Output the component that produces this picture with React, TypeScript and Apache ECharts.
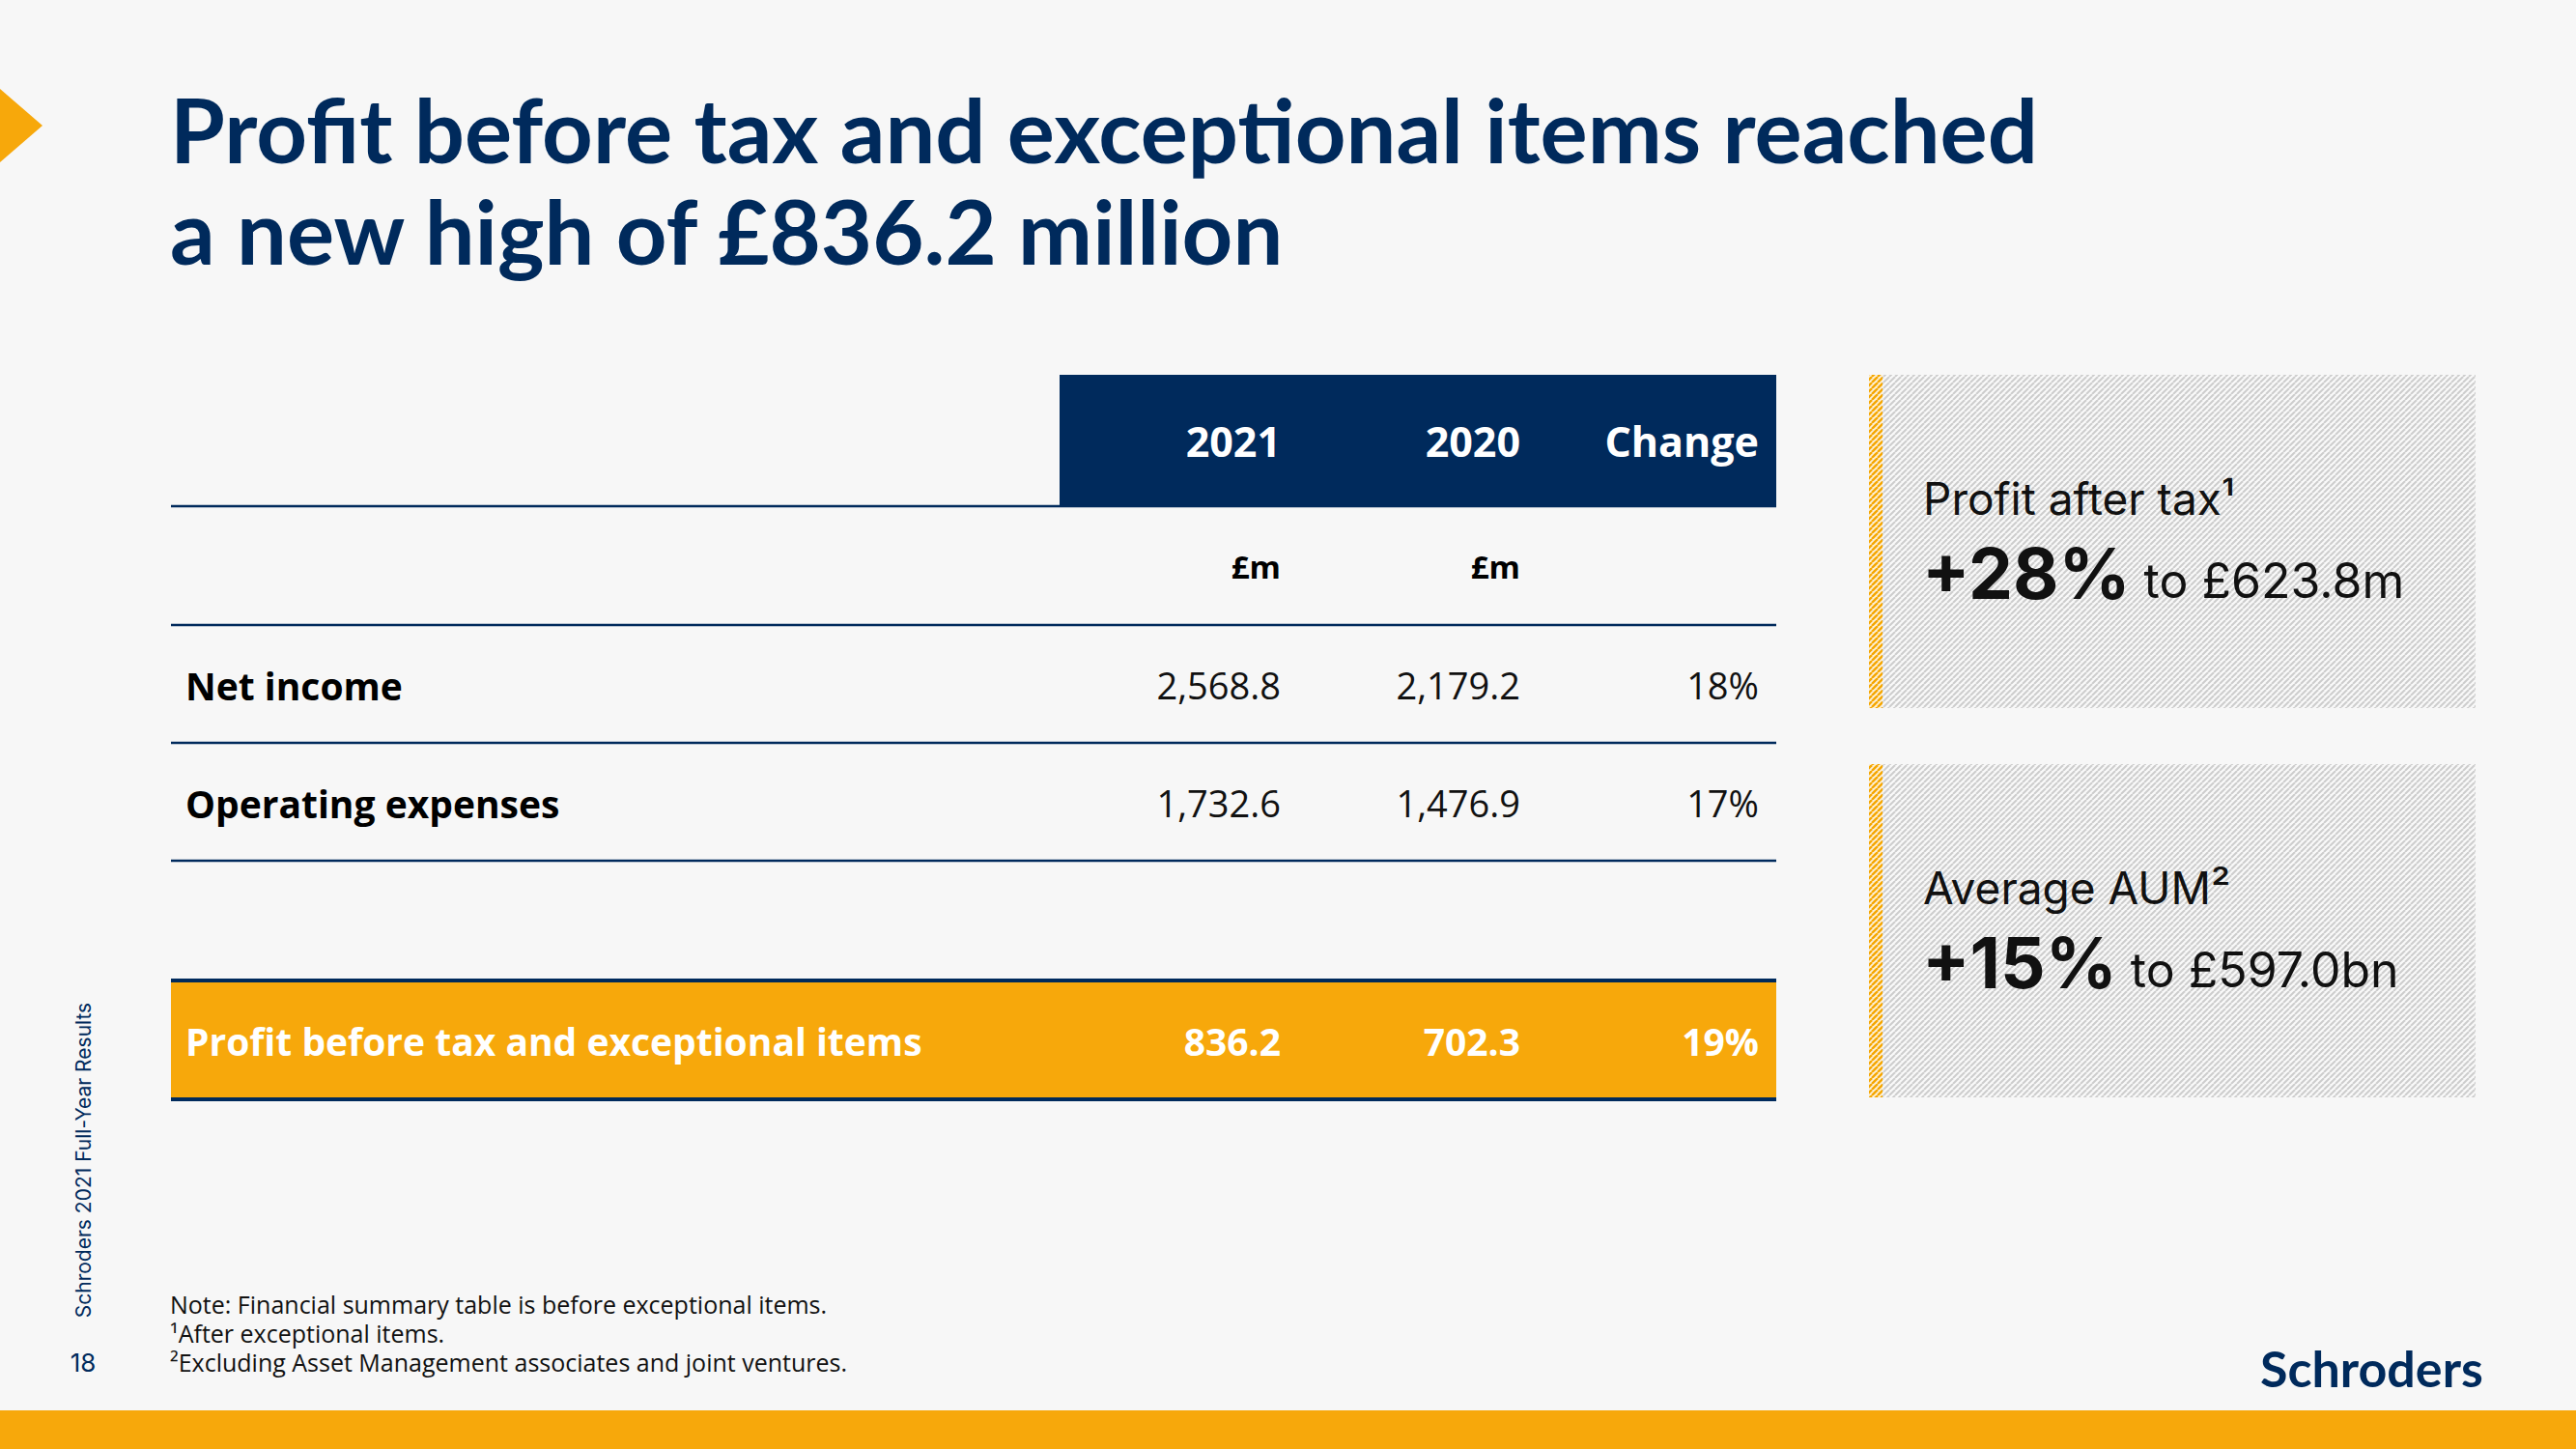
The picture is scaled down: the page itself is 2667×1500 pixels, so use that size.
import React, { useEffect, useRef } from 'react';
import * as echarts from 'echarts';

const titleLines = ['Profit before tax and exceptional items reached', 'a new high of £836.2 million'];
const columns = ['2021', '2020', 'Change'];
const units = ['£m', '£m', ''];
const rowLabels = ['Net income', 'Operating expenses'];
const values2021 = [2568.8, 1732.6];
const values2020 = [2179.2, 1476.9];
const changes = ['18%', '17%'];
const totalLabel = 'Profit before tax and exceptional items';
const total2021 = 836.2;
const total2020 = 702.3;
const totalChange = '19%';
const kpiLabels = ['Profit after tax¹', 'Average AUM²'];
const kpiChanges = ['+28%', '+15%'];
const kpiValues = ['to £623.8m', 'to £597.0bn'];
const notes = [
  'Note: Financial summary table is before exceptional items.',
  '¹After exceptional items.',
  '²Excluding Asset Management associates and joint ventures.',
];
const sideText = 'Schroders 2021 Full-Year Results';
const pageNumber = '18';
const brand = 'Schroders';

const NAVY = '#002a5c';
const ORANGE = '#f7a80b';
const BG = '#f7f7f7';
const TABLE_FONT = '"Open Sans", "Noto Sans", sans-serif';
const TITLE_FONT = 'Lato, "Open Sans", sans-serif';
const KPI_FONT = 'Inter, Lato, sans-serif';

const fmt = (v: number) =>
  v.toLocaleString('en-US', { minimumFractionDigits: 1, maximumFractionDigits: 1 });

let measureCtx: CanvasRenderingContext2D | null = null;
function measure(text: string, font: string) {
  if (!measureCtx) measureCtx = document.createElement('canvas').getContext('2d');
  measureCtx!.font = font;
  return measureCtx!.measureText(text).width;
}

function hatch(bg: string, fg: string, size: number, lw: number) {
  const c = document.createElement('canvas');
  c.width = size;
  c.height = size;
  const g = c.getContext('2d')!;
  g.fillStyle = bg;
  g.fillRect(0, 0, size, size);
  g.strokeStyle = fg;
  g.lineWidth = lw;
  for (const k of [-1, 0, 1]) {
    g.beginPath();
    g.moveTo(k * size, size);
    g.lineTo(k * size + size, 0);
    g.stroke();
  }
  return { image: c, repeat: 'repeat', imageWidth: size, imageHeight: size };
}

function txt(x: number, y: number, text: string, o: any = {}) {
  return {
    type: 'text',
    x,
    y,
    rotation: o.rotation || 0,
    style: {
      text,
      fontSize: o.size || 38,
      fontFamily: o.family || TABLE_FONT,
      fontWeight: o.weight || 'normal',
      fill: o.color || '#000',
      align: o.align || 'left',
      verticalAlign: 'middle',
    },
  };
}

function buildElements() {
  const els: any[] = [];
  // bottom bar and arrow
  els.push({ type: 'rect', shape: { x: 0, y: 1460, width: 2667, height: 40 }, style: { fill: ORANGE } });
  els.push({ type: 'polygon', shape: { points: [[0, 92], [44, 130], [0, 168]] }, style: { fill: ORANGE } });

  // title
  const titleY = [133, 238];
  titleLines.forEach((t, i) =>
    els.push(txt(176, titleY[i], t, { size: 92, family: TITLE_FONT, weight: 'bold', color: NAVY }))
  );

  // table
  const L = 177;
  const R = 1839;
  const colRight = [1326, 1574, 1821];
  els.push({ type: 'rect', shape: { x: 1097, y: 388, width: R - 1097, height: 136 }, style: { fill: NAVY } });
  columns.forEach((c, i) =>
    els.push(txt(colRight[i], 456, c, { size: 43, weight: 'bold', color: '#fff', align: 'right' }))
  );
  units.forEach((u, i) => {
    if (u) els.push(txt(colRight[i], 586, u, { size: 33, weight: 'bold', color: '#000', align: 'right' }));
  });
  const lineYs = [524, 647, 769, 891];
  lineYs.forEach((y) =>
    els.push({ type: 'line', shape: { x1: L, y1: y, x2: R, y2: y }, style: { stroke: NAVY, lineWidth: 2.5 } })
  );
  const rowY = [709, 831];
  rowLabels.forEach((r, i) => {
    els.push(txt(192, rowY[i], r, { size: 39, weight: 'bold', color: '#000' }));
    els.push(txt(colRight[0], rowY[i], fmt(values2021[i]), { size: 38, color: '#111', align: 'right' }));
    els.push(txt(colRight[1], rowY[i], fmt(values2020[i]), { size: 38, color: '#111', align: 'right' }));
    els.push(txt(colRight[2], rowY[i], changes[i], { size: 38, color: '#111', align: 'right' }));
  });
  // total row
  els.push({ type: 'rect', shape: { x: L, y: 1015, width: R - L, height: 123 }, style: { fill: ORANGE } });
  els.push({ type: 'line', shape: { x1: L, y1: 1015, x2: R, y2: 1015 }, style: { stroke: NAVY, lineWidth: 4 } });
  els.push({ type: 'line', shape: { x1: L, y1: 1138, x2: R, y2: 1138 }, style: { stroke: NAVY, lineWidth: 4 } });
  els.push(txt(192, 1077, totalLabel, { size: 39, weight: 'bold', color: '#fff' }));
  els.push(txt(colRight[0], 1077, fmt(total2021), { size: 39, weight: 'bold', color: '#fff', align: 'right' }));
  els.push(txt(colRight[1], 1077, fmt(total2020), { size: 39, weight: 'bold', color: '#fff', align: 'right' }));
  els.push(txt(colRight[2], 1077, totalChange, { size: 39, weight: 'bold', color: '#fff', align: 'right' }));

  // KPI boxes
  const grayHatch = hatch('#f9f9f9', '#cdcdcd', 6, 2);
  const orangeHatch = hatch('#fdf0d6', '#f5a600', 6, 2.4);
  const boxY = [388, 791];
  kpiLabels.forEach((lab, i) => {
    const y0 = boxY[i];
    els.push({ type: 'rect', shape: { x: 1935, y: y0, width: 628, height: 345 }, style: { fill: grayHatch } });
    els.push({ type: 'rect', shape: { x: 1935, y: y0, width: 14, height: 345 }, style: { fill: orangeHatch } });
    els.push(txt(1991, y0 + 128, lab, { size: 46, family: KPI_FONT, color: '#111' }));
    els.push(txt(1990, y0 + 205, kpiChanges[i], { size: 73, family: KPI_FONT, weight: 'bold', color: '#111' }));
    const w = measure(kpiChanges[i], `bold 73px ${KPI_FONT}`);
    els.push(txt(1990 + w + 14, y0 + 213, kpiValues[i], { size: 50, family: KPI_FONT, color: '#111' }));
  });

  // notes
  const noteY = [1350, 1380, 1410];
  notes.forEach((n, i) => els.push(txt(176, noteY[i], n, { size: 25, color: '#111' })));

  // side text and page number
  els.push(txt(86, 1201, sideText, { size: 21, family: KPI_FONT, color: NAVY, align: 'center', rotation: Math.PI / 2 }));
  els.push(txt(86, 1410, pageNumber, { size: 26, family: KPI_FONT, color: NAVY, align: 'center' }));

  // brand
  els.push(txt(2340, 1416, brand, { size: 52, family: TITLE_FONT, weight: 'bold', color: NAVY }));
  return els;
}

export default function App() {
  const ref = useRef<HTMLDivElement>(null);
  useEffect(() => {
    document.body.style.margin = '0';
    document.body.style.background = BG;
    const chart = echarts.init(ref.current!, null, { renderer: 'svg' });
    chart.setOption({
      animation: false,
      backgroundColor: BG,
      graphic: { elements: buildElements() },
    });
    return () => chart.dispose();
  }, []);
  return <div ref={ref} style={{ width: 2667, height: 1500 }} />;
}
